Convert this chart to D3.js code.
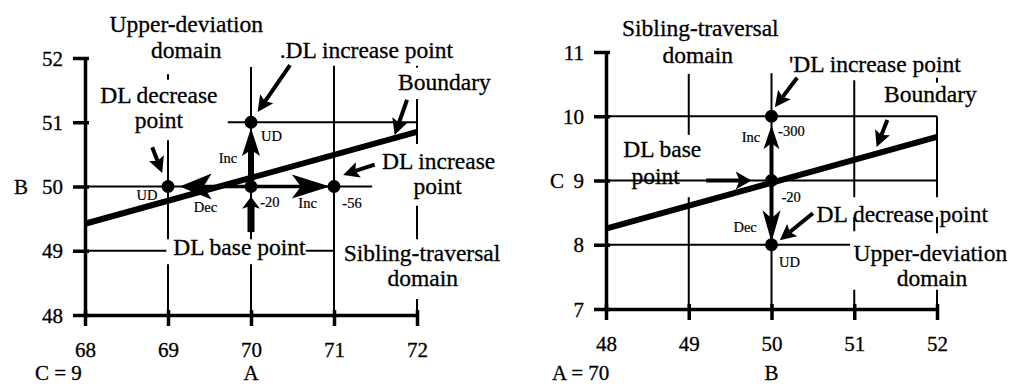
<!DOCTYPE html>
<html>
<head>
<meta charset="utf-8">
<script src="https://cdn.jsdelivr.net/npm/d3@7"></script>
<style>
  html, body { margin: 0; padding: 0; background: #fff; }
  svg { display: block; }
</style>
</head>
<body>
<svg id="chart" width="1017" height="387"></svg>
<script>
// ---------- Left panel: B against A, with C held at 9 ----------
const leftXTicks = [68, 69, 70, 71, 72];
const leftYTicks = [48, 49, 50, 51, 52];
const leftBoundary = [[68, 49.42], [72, 50.85]];
const leftPoints = [[69, 50], [70, 50], [70, 51], [71, 50]];
// grid segments [x1, y1, x2, y2], broken where the labels sit
const leftGrid = [
  [69.72, 51, 72, 51],
  [68, 50, 71.46, 50],
  [68, 49, 68.98, 49],
  [70.66, 49, 71, 49],
  [69, 51.75, 69, 51.66],
  [69, 50.72, 69, 49.18],
  [69, 48.79, 69, 48],
  [70, 51.86, 70, 49.18],
  [70, 48.79, 70, 48],
  [71, 51.88, 71, 48],
  [72, 51.36, 72, 50.66],
  [72, 49.70, 72, 49.18],
  [72, 48.25, 72, 48],
  [72, 51.88, 72, 51.85]
];
// search moves [x1, y1, x2, y2, kind]
const leftMoves = [
  [70, 50, 70, 50.91, "incV"],
  [70, 50, 69.14, 50, "decH"],
  [70, 50, 70.95, 50, "incH"],
  [70, 49.29, 70, 49.84, "base"]
];
// callout arrows [x1, y1, x2, y2]
const leftPointers = [
  [70.47, 51.89, 70.08, 51.16],
  [68.81, 50.61, 68.93, 50.21],
  [71.88, 51.35, 71.73, 50.80],
  [71.49, 50.34, 71.11, 50.18]
];
// labels: each is a list of lines [text, x, y]
const leftLabels = [
  [["Upper-deviation", 69.22, 52.40], ["domain", 69.22, 52.00]],
  [["DL decrease", 68.89, 51.30], ["point", 68.89, 50.91]],
  [[".DL increase point", 71.39, 52.00]],
  [["Boundary", 72.33, 51.50]],
  [["DL increase", 72.26, 50.28], ["point", 72.25, 49.89]],
  [["DL base point", 69.86, 48.93]],
  [["Sibling-traversal", 72.06, 48.84], ["domain", 72.07, 48.45]]
];
const leftNotes = [
  ["UD", 70.12, 50.71],
  ["Inc", 69.61, 50.37],
  ["UD", 68.62, 49.79],
  ["Dec", 69.31, 49.60],
  ["-20", 70.11, 49.68],
  ["Inc", 70.57, 49.67],
  ["-56", 71.10, 49.67]
];
const leftTitles = { y: "B", x: "A", fixed: "C = 9" };

// ---------- Right panel: C against B, with A held at 70 ----------
const rightXTicks = [48, 49, 50, 51, 52];
const rightYTicks = [7, 8, 9, 10, 11];
const rightBoundary = [[48, 8.25], [52, 9.68]];
const rightPoints = [[50, 10], [50, 9], [50, 8]];
const rightGrid = [
  [48, 10, 52, 10],
  [48, 9, 52, 9],
  [48, 8, 50.95, 8],
  [49, 10.66, 49, 9.71],
  [49, 8.74, 49, 7],
  [50, 10.67, 50, 7],
  [51, 10.56, 51, 8.74],
  [51, 8.43, 51, 8.21],
  [51, 7.30, 51, 7],
  [52, 10, 52, 8.74],
  [52, 8.43, 52, 8.18],
  [52, 7.30, 52, 7],
  [52, 10.60, 52, 10.52]
];
const rightMoves = [
  [50, 9, 50, 9.86, "incVR"],
  [50, 9, 50, 8.04, "decVR"],
  [49.21, 9, 49.76, 9, "baseR"]
];
const rightPointers = [
  [50.31, 10.60, 50.04, 10.14],
  [51.40, 9.94, 51.27, 9.52],
  [50.50, 8.49, 50.10, 8.07]
];
const rightLabels = [
  [["Sibling-traversal", 49.14, 11.25], ["domain", 49.11, 10.83]],
  [["'DL increase point", 51.25, 10.69]],
  [["Boundary", 51.92, 10.22]],
  [["DL base", 48.68, 9.37], ["point", 48.60, 8.95]],
  [["DL decrease point", 51.58, 8.35]],
  [["Upper-deviation", 51.92, 7.75], ["domain", 51.94, 7.36]]
];
const rightNotes = [
  ["Inc", 49.64, 9.60],
  ["-300", 50.08, 9.69],
  ["-20", 50.12, 8.67],
  ["Dec", 49.54, 8.20],
  ["UD", 50.09, 7.65]
];
const rightTitles = { y: "C", x: "B", fixed: "A = 70" };

// ---------- drawing ----------
const FONT_FAMILY = "'Liberation Serif', 'Times New Roman', Times, serif";
const BIG = 23.5, TICK = 21, SMALL = 14.5;
const INK = "#000";

// arrow-head shapes: length, half width, notch depth, shaft width
const heads = {
  incV:  { len: 28, half: 9,  notch: 6, shaft: 6 },
  decH:  { len: 32, half: 13, notch: 8, shaft: 3.5 },
  incH:  { len: 38, half: 12, notch: 9, shaft: 3.5 },
  base:  { len: 12, half: 9,  notch: 3, shaft: 7 },
  incVR: { len: 24, half: 8,  notch: 6, shaft: 4 },
  decVR: { len: 32, half: 9,  notch: 8, shaft: 4 },
  baseR: { len: 16, half: 9,  notch: 4, shaft: 4 },
  pointer: { len: 16, half: 8, notch: 3, shaft: 4 }
};

const svg = d3.select("#chart")
  .attr("font-family", FONT_FAMILY);

function headPath(tail, tip, h) {
  const a = Math.atan2(tip[1] - tail[1], tip[0] - tail[0]);
  const c = Math.cos(a), s = Math.sin(a);
  const pt = (u, v) => [tip[0] + u * c - v * s, tip[1] + u * s + v * c];
  return "M" + [pt(0, 0), pt(-h.len, -h.half), pt(-h.len + h.notch, 0), pt(-h.len, h.half)]
    .map(p => p.join(",")).join("L") + "Z";
}

function shaftEnd(tail, tip, h) {
  const dx = tip[0] - tail[0], dy = tip[1] - tail[1];
  const L = Math.hypot(dx, dy);
  const back = h.len - h.notch;
  return [tip[0] - dx / L * back, tip[1] - dy / L * back];
}

function drawArrows(g, rows, x, y, kindOf) {
  rows.forEach(r => {
    const h = heads[kindOf(r)];
    const tail = [x(r[0]), y(r[1])], tip = [x(r[2]), y(r[3])];
    const end = shaftEnd(tail, tip, h);
    g.append("line")
      .attr("x1", tail[0]).attr("y1", tail[1])
      .attr("x2", end[0]).attr("y2", end[1])
      .attr("stroke", INK).attr("stroke-width", h.shaft);
    g.append("path").attr("d", headPath(tail, tip, h)).attr("fill", INK);
  });
}

// slightly heavier strokes on type, like a printed page
function inked(sel, w) {
  return sel.attr("fill", INK).attr("stroke", INK).attr("stroke-width", w);
}

function drawPanel(cfg) {
  const x = d3.scaleLinear().domain(d3.extent(cfg.xTicks)).range(cfg.xRange);
  const y = d3.scaleLinear().domain(d3.extent(cfg.yTicks)).range(cfg.yRange);
  const g = svg.append("g");

  // grid segments
  g.append("g").selectAll("line").data(cfg.grid).join("line")
    .attr("x1", d => x(d[0])).attr("y1", d => y(d[1]))
    .attr("x2", d => x(d[2])).attr("y2", d => y(d[3]))
    .attr("stroke", INK).attr("stroke-width", 2);

  // axes
  const ya = g.append("g")
    .attr("transform", `translate(${cfg.xRange[0]},0)`)
    .call(d3.axisLeft(y).tickValues(cfg.yTicks).tickFormat(d3.format("d"))
      .tickSizeInner(12).tickSizeOuter(0).tickPadding(10));
  const xa = g.append("g")
    .attr("transform", `translate(0,${cfg.yRange[0]})`)
    .call(d3.axisBottom(x).tickValues(cfg.xTicks).tickFormat(d3.format("d"))
      .tickSizeInner(11).tickSizeOuter(0).tickPadding(10));
  [ya, xa].forEach(a => {
    a.attr("font-family", FONT_FAMILY).attr("font-size", TICK);
    a.select(".domain").attr("stroke", INK).attr("stroke-width", 3.5);
    a.selectAll(".tick line").attr("stroke", INK).attr("stroke-width", 3.5);
    inked(a.selectAll(".tick text"), 0.3);
  });
  ya.selectAll(".tick line").attr("x1", 4);
  ya.selectAll(".tick text").attr("dy", "0.34em");
  xa.selectAll(".tick line").attr("y1", -5);
  xa.selectAll(".tick text").attr("dy", null).attr("y", 42);

  // axis titles
  const x0 = cfg.xRange[0];
  inked(g.append("text").text(cfg.titles.y)
    .attr("x", x0 - cfg.yTitleOffset).attr("y", y(cfg.yTitleAt)).attr("dy", "0.34em")
    .attr("text-anchor", "middle").attr("font-size", TICK), 0.3);
  inked(g.append("text").text(cfg.titles.x)
    .attr("x", x(cfg.xTitleAt)).attr("y", cfg.titleBaseline)
    .attr("text-anchor", "middle").attr("font-size", TICK), 0.3);
  inked(g.append("text").text(cfg.titles.fixed)
    .attr("x", x0 - cfg.fixedOffset).attr("y", cfg.titleBaseline)
    .attr("text-anchor", "start").attr("font-size", TICK), 0.3);

  // small annotations on the moves
  inked(g.append("g").selectAll("text").data(cfg.notes).join("text")
    .text(d => d[0]).attr("x", d => x(d[1])).attr("y", d => y(d[2]))
    .attr("font-size", SMALL), 0.2);

  // boundary
  g.append("line")
    .attr("x1", x(cfg.boundary[0][0])).attr("y1", y(cfg.boundary[0][1]))
    .attr("x2", x(cfg.boundary[1][0])).attr("y2", y(cfg.boundary[1][1]))
    .attr("stroke", INK).attr("stroke-width", 6);

  // moves and callouts
  drawArrows(g, cfg.moves, x, y, r => r[4]);
  drawArrows(g, cfg.pointers, x, y, () => "pointer");

  // points
  g.append("g").selectAll("circle").data(cfg.points).join("circle")
    .attr("cx", d => x(d[0])).attr("cy", d => y(d[1])).attr("r", 6.5).attr("fill", INK);

  // region / point labels, one text block per label
  const blocks = inked(g.append("g").selectAll("text").data(cfg.labels).join("text")
    .attr("text-anchor", "middle").attr("font-size", BIG), 0.3);
  blocks.selectAll("tspan").data(d => d).join("tspan")
    .text(d => d[0]).attr("x", d => x(d[1])).attr("y", d => y(d[2]));
}

drawPanel({
  xTicks: leftXTicks, yTicks: leftYTicks,
  xRange: [85, 417], yRange: [315, 58],
  grid: leftGrid, boundary: leftBoundary, points: leftPoints,
  moves: leftMoves, pointers: leftPointers,
  labels: leftLabels, notes: leftNotes, titles: leftTitles,
  yTitleAt: 50, yTitleOffset: 64, xTitleAt: 70, fixedOffset: 50, titleBaseline: 380
});

drawPanel({
  xTicks: rightXTicks, yTicks: rightYTicks,
  xRange: [606, 937], yRange: [309, 52],
  grid: rightGrid, boundary: rightBoundary, points: rightPoints,
  moves: rightMoves, pointers: rightPointers,
  labels: rightLabels, notes: rightNotes, titles: rightTitles,
  yTitleAt: 9, yTitleOffset: 49, xTitleAt: 50, fixedOffset: 54, titleBaseline: 380
});
</script>
</body>
</html>
